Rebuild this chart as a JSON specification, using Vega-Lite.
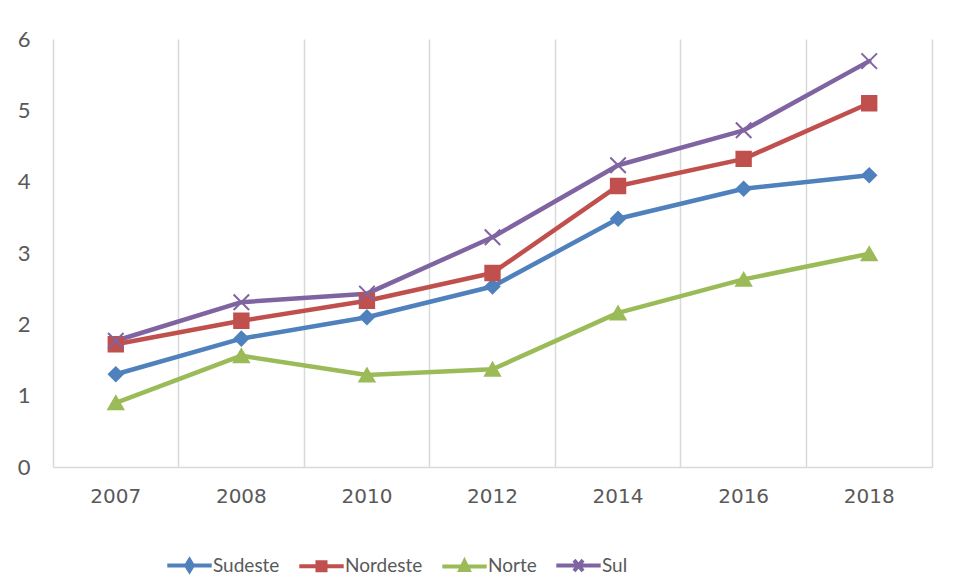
{
  "$schema": "https://vega.github.io/schema/vega-lite/v6.json",
  "width": 879,
  "height": 428,
  "autosize": {"type": "none"},
  "padding": {"left": 53, "top": 39, "right": 25, "bottom": 113},
  "background": "white",
  "config": {"view": {"stroke": null}, "font": "Lato"},
  "data": {"values": [
    {"year": "2007", "region": "Sudeste", "value": 1.3},
    {"year": "2008", "region": "Sudeste", "value": 1.8},
    {"year": "2010", "region": "Sudeste", "value": 2.1},
    {"year": "2012", "region": "Sudeste", "value": 2.53},
    {"year": "2014", "region": "Sudeste", "value": 3.48},
    {"year": "2016", "region": "Sudeste", "value": 3.9},
    {"year": "2018", "region": "Sudeste", "value": 4.09},
    {"year": "2007", "region": "Nordeste", "value": 1.72},
    {"year": "2008", "region": "Nordeste", "value": 2.05},
    {"year": "2010", "region": "Nordeste", "value": 2.33},
    {"year": "2012", "region": "Nordeste", "value": 2.72},
    {"year": "2014", "region": "Nordeste", "value": 3.94},
    {"year": "2016", "region": "Nordeste", "value": 4.32},
    {"year": "2018", "region": "Nordeste", "value": 5.1},
    {"year": "2007", "region": "Norte", "value": 0.9},
    {"year": "2008", "region": "Norte", "value": 1.56},
    {"year": "2010", "region": "Norte", "value": 1.29},
    {"year": "2012", "region": "Norte", "value": 1.37},
    {"year": "2014", "region": "Norte", "value": 2.16},
    {"year": "2016", "region": "Norte", "value": 2.63},
    {"year": "2018", "region": "Norte", "value": 2.99},
    {"year": "2007", "region": "Sul", "value": 1.77},
    {"year": "2008", "region": "Sul", "value": 2.31},
    {"year": "2010", "region": "Sul", "value": 2.43},
    {"year": "2012", "region": "Sul", "value": 3.22},
    {"year": "2014", "region": "Sul", "value": 4.23},
    {"year": "2016", "region": "Sul", "value": 4.72},
    {"year": "2018", "region": "Sul", "value": 5.69}
  ]},
  "resolve": {"axis": {"y": "independent"}, "scale": {"color": "independent", "shape": "independent", "stroke": "independent"}},
  "layer": [
    {
      "mark": {"type": "line", "strokeWidth": 4.5, "strokeJoin": "round", "strokeCap": "round"},
      "encoding": {
        "x": {"field": "year", "type": "ordinal", "sort": null,
          "scale": {"type": "band", "paddingInner": 0, "paddingOuter": 0},
          "axis": {"title": null, "bandPosition": 0, "grid": true, "gridColor": "#d9d9d9", "gridWidth": 1.5,
            "ticks": false, "domain": true, "domainColor": "#d9d9d9", "domainWidth": 1.5,
            "labelFont": "DejaVu Sans", "labelFontSize": 20, "labelColor": "#595959", "labelPadding": 19, "labelAngle": 0}},
        "y": {"field": "value", "type": "quantitative",
          "scale": {"domain": [0, 6], "nice": false},
          "axis": {"title": null, "values": [0, 1, 2, 3, 4, 5, 6], "grid": false, "domain": false, "ticks": false,
            "labelFont": "Lato", "labelFontSize": 22, "labelColor": "#595959", "labelPadding": 23}},
        "color": {"field": "region", "type": "nominal",
          "scale": {"domain": ["Sudeste", "Nordeste", "Norte", "Sul"], "range": ["#4F81BD", "#C0504D", "#9BBB59", "#8064A2"]},
          "legend": null},
        "order": {"field": "year"}
      }
    },
    {
      "mark": {"type": "point", "filled": true, "opacity": 1, "strokeWidth": 2},
      "encoding": {
        "x": {"field": "year", "type": "ordinal", "sort": null},
        "y": {"field": "value", "type": "quantitative",
          "axis": {"orient": "right", "title": null, "labels": false, "ticks": false, "grid": false,
            "domain": true, "domainColor": "#d9d9d9", "domainWidth": 1.5}},
        "fill": {"field": "region", "type": "nominal",
          "scale": {"domain": ["Sudeste", "Nordeste", "Norte", "Sul"], "range": ["#4F81BD", "#C0504D", "#9BBB59", "#8064A2"]},
          "legend": null},
        "stroke": {"field": "region", "type": "nominal",
          "scale": {"domain": ["Sudeste", "Nordeste", "Norte", "Sul"], "range": ["#4F81BD", "#C0504D", "#9BBB59", "#8064A2"]},
          "legend": null},
        "shape": {"field": "region", "type": "nominal",
          "scale": {"domain": ["Sudeste", "Nordeste", "Norte", "Sul"], "range": ["diamond", "square", "triangle-up", "M-1,-1L1,1M-1,1L1,-1"]},
          "legend": null},
        "size": {"field": "region", "type": "nominal",
          "scale": {"domain": ["Sudeste", "Nordeste", "Norte", "Sul"], "range": [190, 240, 240, 260]},
          "legend": null}
      }
    },
    {
      "mark": {"type": "point", "filled": true, "opacity": 0, "strokeWidth": 4, "size": 144},
      "encoding": {
        "color": {"field": "region", "type": "nominal",
          "scale": {"domain": ["Sudeste", "Nordeste", "Norte", "Sul"], "range": ["#4F81BD", "#C0504D", "#9BBB59", "#8064A2"]},
          "legend": {"title": null, "orient": "none", "legendX": 127, "legendY": 517, "direction": "horizontal",
            "labelFont": "Lato", "labelFontSize": 19, "labelColor": "#595959",
            "symbolSize": 144, "symbolStrokeWidth": 4, "symbolOpacity": 1, "labelOffset": 14, "columnPadding": 11}},
        "stroke": {"field": "region", "type": "nominal",
          "scale": {"domain": ["Sudeste", "Nordeste", "Norte", "Sul"], "range": ["#4F81BD", "#C0504D", "#9BBB59", "#8064A2"]},
          "legend": {"title": null, "orient": "none", "legendX": 127, "legendY": 517, "direction": "horizontal",
            "labelFont": "Lato", "labelFontSize": 19, "labelColor": "#595959",
            "symbolSize": 144, "symbolStrokeWidth": 4, "symbolOpacity": 1, "labelOffset": 14, "columnPadding": 11}},
        "shape": {"field": "region", "type": "nominal",
          "scale": {"domain": ["Sudeste", "Nordeste", "Norte", "Sul"], "range": [
            "M-3.7,0L3.7,0M0,-0.9L0.55,0L0,0.9L-0.55,0Z",
            "M-3.7,0L3.7,0M-0.67,-0.67L0.67,-0.67L0.67,0.67L-0.67,0.67Z",
            "M-3.7,0L3.7,0M0,-0.85L0.7,0.6L-0.7,0.6Z",
            "M-3.7,0L3.7,0M-0.75,-0.9L0.75,0.9M-0.75,0.9L0.75,-0.9"]},
          "legend": {"title": null, "orient": "none", "legendX": 127, "legendY": 517, "direction": "horizontal",
            "labelFont": "Lato", "labelFontSize": 19, "labelColor": "#595959",
            "symbolSize": 144, "symbolStrokeWidth": 4, "symbolOpacity": 1, "labelOffset": 14, "columnPadding": 11}}
      }
    }
  ]
}
